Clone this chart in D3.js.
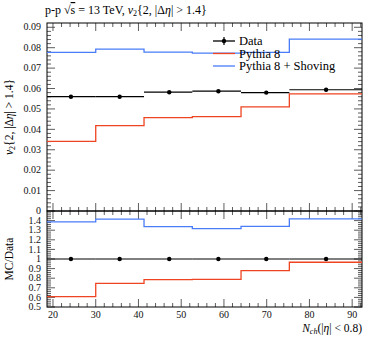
<!DOCTYPE html>
<html>
<head>
<meta charset="utf-8">
<script src="https://cdn.jsdelivr.net/npm/d3@7"></script>
<style>
  body { margin: 0; background: #fff; }
  svg { font-family: "Liberation Serif", serif; }
</style>
</head>
<body>
<div class="responsive-svg-container"></div>
<script>
// bin edges (N_ch) and values
const binEdges = [18.6, 30, 41.3, 52.6, 64, 75.3, 92.3];
const dataX = [24.2, 35.6, 47.2, 58.7, 69.9, 83.9];
const dataY = [0.0560, 0.0560, 0.0582, 0.0587, 0.0580, 0.0594];
const dataErr = [0.0004, 0.0004, 0.0004, 0.0004, 0.0004, 0.0008];
const pythia = [0.0341, 0.0418, 0.0457, 0.0462, 0.0510, 0.0574];
const shoving = [0.0777, 0.0793, 0.0778, 0.0773, 0.0777, 0.0842];
const xTicks = [20, 30, 40, 50, 60, 70, 80, 90];
const yTicks = [0, 0.01, 0.02, 0.03, 0.04, 0.05, 0.06, 0.07, 0.08, 0.09];
const rTicks = [0.5, 0.6, 0.7, 0.8, 0.9, 1, 1.1, 1.2, 1.3, 1.4];

const W = 374, H = 337;
const pLeft = 47, pRight = 362, pTop = 23, pMid = 211, pBottom = 307;
const red = "#ee4422", blue = "#4a7cf7";

const svg = d3.select(".responsive-svg-container")
  .append("svg")
  .attr("width", W)
  .attr("height", H);

const x = d3.scaleLinear().domain([18.6, 92.3]).range([pLeft, pRight]);
const y = d3.scaleLinear().domain([0, 0.0921]).range([pMid, pTop]);
const yr = d3.scaleLinear().domain([0.5, 1.5]).range([pBottom, pMid]);

// ticks, all inward on every side
const minorX = d3.range(20, 92.1, 2).filter(v => v % 10 !== 0);
const axes = svg.append("g").attr("stroke", "#333").attr("stroke-width", 0.8);

const xTickLines = (y0, y1) => {
  // y0 = bottom edge of panel, y1 = top edge
  xTicks.forEach(v => {
    axes.append("line").attr("x1", x(v)).attr("x2", x(v)).attr("y1", y0).attr("y2", y0 - 8);
    axes.append("line").attr("x1", x(v)).attr("x2", x(v)).attr("y1", y1).attr("y2", y1 + 8);
  });
  minorX.forEach(v => {
    axes.append("line").attr("x1", x(v)).attr("x2", x(v)).attr("y1", y0).attr("y2", y0 - 4);
    axes.append("line").attr("x1", x(v)).attr("x2", x(v)).attr("y1", y1).attr("y2", y1 + 4);
  });
};
xTickLines(pMid, pTop);
xTickLines(pBottom, pMid);

const yTickLines = (scale, majors, minors) => {
  majors.forEach(v => {
    axes.append("line").attr("x1", pLeft).attr("x2", pLeft + 8).attr("y1", scale(v)).attr("y2", scale(v));
    axes.append("line").attr("x1", pRight).attr("x2", pRight - 8).attr("y1", scale(v)).attr("y2", scale(v));
  });
  minors.forEach(v => {
    axes.append("line").attr("x1", pLeft).attr("x2", pLeft + 4).attr("y1", scale(v)).attr("y2", scale(v));
    axes.append("line").attr("x1", pRight).attr("x2", pRight - 4).attr("y1", scale(v)).attr("y2", scale(v));
  });
};
yTickLines(y, yTicks, d3.range(0.002, 0.092, 0.002).filter(v => Math.abs(v * 100 - Math.round(v * 100)) > 1e-6));
yTickLines(yr, rTicks, d3.range(0.52, 1.5, 0.02).filter(v => Math.abs(v * 10 - Math.round(v * 10)) > 1e-6));

// frames
svg.append("rect").attr("x", pLeft).attr("y", pTop).attr("width", pRight - pLeft).attr("height", pMid - pTop)
  .attr("fill", "none").attr("stroke", "#000").attr("stroke-width", 1);
svg.append("rect").attr("x", pLeft).attr("y", pMid).attr("width", pRight - pLeft).attr("height", pBottom - pMid)
  .attr("fill", "none").attr("stroke", "#000").attr("stroke-width", 1);

// tick labels
const lab = svg.append("g").attr("font-size", 10).attr("fill", "#111");
yTicks.forEach(v => lab.append("text").attr("x", pLeft - 6).attr("y", y(v)).attr("dy", "0.32em")
  .attr("text-anchor", "end").text(v === 0 ? "0" : d3.format(".2f")(v)));
rTicks.forEach(v => lab.append("text").attr("x", pLeft - 6).attr("y", yr(v)).attr("dy", "0.32em")
  .attr("text-anchor", "end").text(d3.format("~g")(v)));
xTicks.forEach(v => lab.append("text").attr("x", x(v)).attr("y", pBottom + 11)
  .attr("text-anchor", "middle").text(v));

// step histogram helper
const stepLine = vals => {
  const pts = [];
  vals.forEach((v, i) => { pts.push([binEdges[i], v]); pts.push([binEdges[i + 1], v]); });
  return pts;
};
const drawStep = (scale, vals, color) => {
  svg.append("path")
    .datum(stepLine(vals))
    .attr("fill", "none").attr("stroke", color).attr("stroke-width", 1.3)
    .attr("d", d3.line().x(d => x(d[0])).y(d => scale(d[1])));
};

drawStep(y, pythia, red);
drawStep(y, shoving, blue);
drawStep(yr, pythia.map((v, i) => v / dataY[i]), red);
drawStep(yr, shoving.map((v, i) => v / dataY[i]), blue);

// data: horizontal bin bars, vertical error bars, points
const drawData = (scale, vals, errs) => {
  const g = svg.append("g");
  vals.forEach((v, i) => {
    g.append("line").attr("x1", x(binEdges[i])).attr("x2", x(binEdges[i + 1]))
      .attr("y1", scale(v)).attr("y2", scale(v)).attr("stroke", "#000").attr("stroke-width", 1.2);
    g.append("line").attr("x1", x(dataX[i])).attr("x2", x(dataX[i]))
      .attr("y1", scale(v - errs[i])).attr("y2", scale(v + errs[i])).attr("stroke", "#000").attr("stroke-width", 1.2);
    g.append("circle").attr("cx", x(dataX[i])).attr("cy", scale(v)).attr("r", 2.2).attr("fill", "#000");
  });
};
drawData(y, dataY, dataErr);
drawData(yr, dataY.map(() => 1), dataErr.map((e, i) => e / dataY[i]));

// legend
const leg = svg.append("g").attr("font-size", 12.5);
const legItems = [["Data", "#000"], ["Pythia 8", red], ["Pythia 8 + Shoving", blue]];
legItems.forEach(([name, c], i) => {
  const ly = 41 + i * 12.5;
  leg.append("line").attr("x1", 213).attr("x2", 235).attr("y1", ly).attr("y2", ly)
    .attr("stroke", c).attr("stroke-width", 1.3);
  if (i === 0) {
    leg.append("line").attr("x1", 224).attr("x2", 224).attr("y1", ly - 4).attr("y2", ly + 4)
      .attr("stroke", "#000").attr("stroke-width", 1.2);
    leg.append("circle").attr("cx", 224).attr("cy", ly).attr("r", 2.2).attr("fill", "#000");
  }
  leg.append("text").attr("x", 239).attr("y", ly).attr("dy", "0.35em").text(name);
});

// title
const title = svg.append("text").attr("x", 45).attr("y", 14).attr("font-size", 12);
title.append("tspan").text("p-p √");
title.append("tspan").attr("text-decoration", "overline").text("s");
title.append("tspan").text(" = 13 TeV, ");
title.append("tspan").attr("font-style", "italic").text("v");
title.append("tspan").attr("font-size", 8).attr("dy", 2).text("2");
title.append("tspan").attr("dy", -2).text("{2, |Δ");
title.append("tspan").attr("font-style", "italic").text("η");
title.append("tspan").text("| > 1.4}");

// y labels
const yl = svg.append("text").attr("transform", `translate(13,${(pTop + pMid) / 2}) rotate(-90)`)
  .attr("text-anchor", "middle").attr("font-size", 11.5);
yl.append("tspan").attr("font-style", "italic").text("v");
yl.append("tspan").attr("font-size", 8).attr("dy", 2).text("2");
yl.append("tspan").attr("dy", -2).text("{2, |Δ");
yl.append("tspan").attr("font-style", "italic").text("η");
yl.append("tspan").text("| > 1.4}");

svg.append("text").attr("transform", `translate(13,${(pMid + pBottom) / 2}) rotate(-90)`)
  .attr("text-anchor", "middle").attr("font-size", 11.5).text("MC/Data");

// x label
const xl = svg.append("text").attr("x", pRight).attr("y", 332).attr("text-anchor", "end").attr("font-size", 11.5);
xl.append("tspan").attr("font-style", "italic").text("N");
xl.append("tspan").attr("font-style", "italic").attr("font-size", 8).attr("dy", 2).text("ch");
xl.append("tspan").attr("dy", -2).text("(|");
xl.append("tspan").attr("font-style", "italic").text("η");
xl.append("tspan").text("| < 0.8)");
</script>
</body>
</html>
